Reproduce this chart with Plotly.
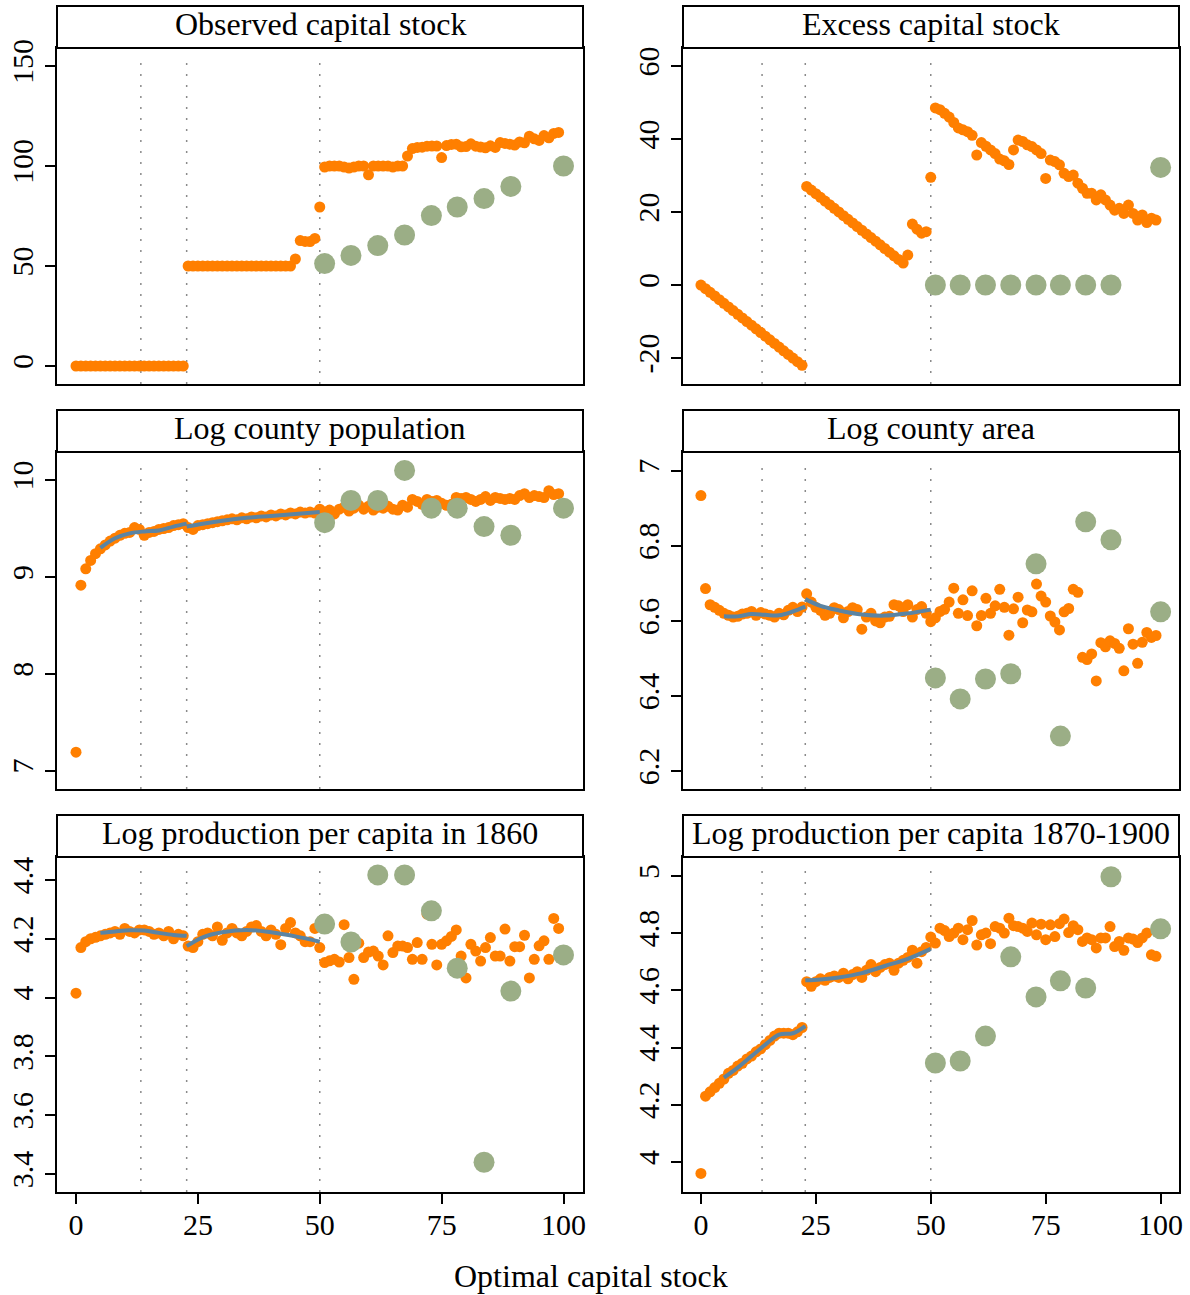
import plotly.graph_objects as go

# ---------------- data ----------------
# optimal capital stock grid (orange points)
X = list(range(100))

OBS = [0, 0, 0, 0, 0, 0, 0, 0, 0, 0, 0, 0, 0, 0, 0, 0, 0, 0, 0, 0, 0, 0, 0,
       50, 50, 50, 50, 50, 50, 50, 50, 50, 50, 50, 50, 50, 50, 50, 50, 50, 50, 50, 50, 50, 50,
       53.5, 62.7, 62.3, 62.2, 63.8, 79.5,
       99.5, 100, 100, 100, 99.5, 99, 99.5, 100, 100, 95.6, 100, 100, 100, 100, 99.5, 100, 100,
       105, 108.7, 109.3, 109.4, 109.9, 110, 110, 104.2,
       110.2, 110.8, 110.9, 109.6, 109.7, 111.1, 109.9, 109.5, 109.1, 110.1, 109.3,
       111.7, 111.3, 110.9, 110.5, 112, 111.6, 114.9, 113.6, 112.8, 115.2, 114.1, 116.3, 116.8]

EXC = [0, -1, -2, -3, -4, -5, -6, -7, -8, -9, -10, -11, -12, -13, -14, -15, -16, -17, -18, -19, -20, -21, -22,
       27, 26, 25, 24, 23, 22, 21, 20, 19, 18, 17, 16, 15, 14, 13, 12, 11, 10, 9, 8, 7, 6,
       8.2, 16.7, 15.3, 14.2, 14.6, 29.5,
       48.5, 48, 47, 46, 44.5, 43, 42.5, 42, 41, 35.6, 39, 38, 37, 36, 34.5, 34, 33,
       37, 39.7, 39.3, 38.4, 37.9, 37, 36, 29.2,
       34.2, 33.8, 32.9, 30.6, 29.7, 30.1, 27.9, 26.5, 25.1, 25.1, 23.3,
       24.7, 23.3, 21.9, 20.5, 21, 19.6, 21.9, 19.6, 17.8, 19.2, 17.1, 18.3, 17.8]

POP = [7.19, 8.915, 9.084, 9.17, 9.24, 9.29, 9.33, 9.37, 9.40, 9.43, 9.45, 9.46, 9.51, 9.49, 9.43,
       9.46, 9.47, 9.49, 9.50, 9.51, 9.53, 9.54, 9.55, 9.51, 9.49, 9.53, 9.54, 9.55, 9.56, 9.57,
       9.58, 9.59, 9.60, 9.59, 9.61, 9.60, 9.62, 9.61, 9.63, 9.62, 9.64, 9.63, 9.65, 9.64, 9.66,
       9.65, 9.67, 9.66, 9.67, 9.66, 9.70,
       9.67, 9.69, 9.65, 9.70, 9.72, 9.68, 9.71, 9.74, 9.70, 9.73, 9.69, 9.72, 9.71, 9.73, 9.70,
       9.69, 9.74, 9.72, 9.80, 9.78, 9.75, 9.80, 9.78, 9.79, 9.76, 9.74, 9.75, 9.82, 9.81, 9.82,
       9.80, 9.78, 9.80, 9.83, 9.79, 9.82, 9.81, 9.80, 9.81, 9.80, 9.84, 9.86, 9.82, 9.84, 9.83,
       9.82, 9.89, 9.85, 9.86]

AREA = [6.934, 6.686, 6.643, 6.636, 6.628, 6.62, 6.615, 6.61, 6.612, 6.618, 6.62, 6.625, 6.615,
        6.622, 6.618, 6.615, 6.61, 6.62, 6.616, 6.628, 6.636, 6.625, 6.637, 6.672, 6.65, 6.636,
        6.628, 6.615, 6.62, 6.635, 6.63, 6.608, 6.625, 6.635, 6.63, 6.578, 6.61, 6.62, 6.6,
        6.595, 6.61, 6.612, 6.643, 6.64, 6.625, 6.643, 6.61, 6.63, 6.638, 6.62, 6.598,
        6.608, 6.625, 6.631, 6.65, 6.687, 6.62, 6.656, 6.614, 6.68, 6.587, 6.614, 6.66, 6.62,
        6.64, 6.684, 6.636, 6.562, 6.632, 6.663, 6.595, 6.629, 6.624, 6.698, 6.666, 6.65,
        6.613, 6.597, 6.576, 6.624, 6.633, 6.684, 6.676, 6.503, 6.497, 6.512, 6.44, 6.542,
        6.531, 6.547, 6.54, 6.527, 6.467, 6.579, 6.538, 6.487, 6.543, 6.569, 6.556, 6.561]

P1860 = [4.015, 4.17, 4.19, 4.20, 4.205, 4.21, 4.215, 4.22, 4.225, 4.215, 4.235, 4.225, 4.22,
         4.23, 4.23, 4.225, 4.215, 4.22, 4.21, 4.225, 4.20, 4.215, 4.21, 4.175, 4.17, 4.19,
         4.215, 4.22, 4.21, 4.24, 4.195, 4.22, 4.235, 4.22, 4.21, 4.225, 4.24, 4.245, 4.225,
         4.21, 4.23, 4.215, 4.18, 4.235, 4.255, 4.22, 4.21, 4.19, 4.19, 4.235, 4.17,
         4.119, 4.125, 4.13, 4.121, 4.248, 4.136, 4.062, 4.185, 4.136, 4.155, 4.158, 4.141,
         4.111, 4.21, 4.153, 4.175, 4.175, 4.17, 4.13, 4.187, 4.13, 4.284, 4.181, 4.111, 4.181,
         4.193, 4.208, 4.23, 4.141, 4.067, 4.181, 4.158, 4.124, 4.17, 4.204, 4.141, 4.141,
         4.233, 4.124, 4.173, 4.173, 4.212, 4.067, 4.13, 4.176, 4.193, 4.13, 4.269, 4.235]

P1870 = [3.96, 4.23, 4.245, 4.26, 4.275, 4.29, 4.31, 4.32, 4.335, 4.345, 4.36, 4.37, 4.385,
         4.395, 4.41, 4.425, 4.44, 4.45, 4.45, 4.45, 4.445, 4.455, 4.47, 4.63, 4.614, 4.63,
         4.64, 4.635, 4.645, 4.65, 4.645, 4.66, 4.64, 4.655, 4.665, 4.645, 4.67, 4.69, 4.665,
         4.68, 4.69, 4.695, 4.67, 4.695, 4.705, 4.715, 4.74, 4.695, 4.735, 4.75, 4.786,
         4.765, 4.817, 4.809, 4.788, 4.80, 4.817, 4.777, 4.812, 4.844, 4.758, 4.794, 4.80,
         4.763, 4.823, 4.817, 4.80, 4.852, 4.826, 4.823, 4.817, 4.806, 4.835, 4.794, 4.831,
         4.777, 4.829, 4.788, 4.833, 4.849, 4.802, 4.826, 4.812, 4.771, 4.783, 4.777, 4.748,
         4.783, 4.783, 4.823, 4.753, 4.771, 4.74, 4.783, 4.779, 4.767, 4.783, 4.80, 4.724, 4.719]

# large green points
GX = [51, 56.4, 61.9, 67.4, 72.9, 78.2, 83.7, 89.2, 100]
G_OBS = [51.2, 55.3, 60.2, 65.5, 75.2, 79.5, 83.7, 89.8, 100]
G_EXC = [0, 0, 0, 0, 0, 0, 0, 0, 32.2]
G_POP = [9.56, 9.79, 9.79, 10.10, 9.71, 9.71, 9.52, 9.43, 9.71]
G_AREA = [6.448, 6.392, 6.445, 6.459, 6.752, 6.293, 6.864, 6.816, 6.624]
G_P1860 = [4.25, 4.189, 4.417, 4.417, 4.295, 4.10, 3.44, 4.022, 4.145]
G_P1870 = [4.346, 4.353, 4.44, 4.717, 4.577, 4.633, 4.608, 4.997, 4.815]

# smoothed fits (blue), two segments each
BX1 = [5, 8, 11, 14, 17, 20, 22.7]
BX2 = [22.7, 26, 30, 35, 40, 45, 50]
B_POP1 = [9.30, 9.40, 9.45, 9.47, 9.48, 9.52, 9.55]
B_POP2 = [9.52, 9.55, 9.58, 9.61, 9.63, 9.65, 9.67]
B_AREA1 = [6.612, 6.612, 6.618, 6.616, 6.615, 6.625, 6.638]
B_AREA2 = [6.658, 6.64, 6.628, 6.617, 6.614, 6.62, 6.63]
B_P18601 = [4.22, 4.225, 4.229, 4.228, 4.22, 4.213, 4.21]
B_P18602 = [4.175, 4.205, 4.222, 4.23, 4.222, 4.208, 4.19]
B_P18701 = [4.295, 4.33, 4.37, 4.41, 4.445, 4.45, 4.475]
B_P18702 = [4.635, 4.638, 4.645, 4.66, 4.685, 4.71, 4.745]

VLINES = [13.3, 22.7, 50]

TITLES = ["Observed capital stock", "Excess capital stock", "Log county population",
          "Log county area", "Log production per capita in 1860", "Log production per capita 1870-1900"]
XTICKS = [0, 25, 50, 75, 100]
YTICKS = [[0, 50, 100, 150], [-20, 0, 20, 40, 60], [7, 8, 9, 10],
          [6.2, 6.4, 6.6, 6.8, 7], [3.4, 3.6, 3.8, 4, 4.2, 4.4], [4, 4.2, 4.4, 4.6, 4.8, 5]]
YRANGES = [[-9, 159], [-27.1, 64.9], [6.81, 10.29], [6.152, 7.05], [3.339, 4.478], [3.895, 5.066]]

# ---------------- style ----------------
ORANGE = "#FF7F00"
GREEN = "#9BAE86"
BLUE = "#5B84A3"
FONT = "Liberation Serif"
W, H = 1190, 1295

XDOM = [[57 / W, 583 / W], [683 / W, 1179 / W]]
ROWS_PX = [(48, 384), (452, 789), (857, 1192)]
STRIP_H = 42

series = [(OBS, G_OBS, None), (EXC, G_EXC, None),
          (POP, G_POP, (B_POP1, B_POP2)), (AREA, G_AREA, (B_AREA1, B_AREA2)),
          (P1860, G_P1860, (B_P18601, B_P18602)), (P1870, G_P1870, (B_P18701, B_P18702))]

fig = go.Figure()
layout = dict(width=W, height=H, autosize=False, margin=dict(l=0, r=0, t=0, b=0, pad=0),
              paper_bgcolor="white", plot_bgcolor="white", showlegend=False,
              font=dict(family=FONT, size=30, color="black"))
shapes, annotations = [], []

for i in range(6):
    k = i + 1
    col = i % 2
    row = i // 2
    xd = XDOM[col]
    top, bot = ROWS_PX[row]
    yd = [1 - bot / H, 1 - top / H]
    xa, ya = f"x{k}" if k > 1 else "x", f"y{k}" if k > 1 else "y"
    yvals, gvals, blue = series[i]

    fig.add_trace(go.Scatter(x=X, y=yvals, mode="markers", xaxis=xa, yaxis=ya,
                             marker=dict(color=ORANGE, size=11, line=dict(width=0))))
    if blue is not None:
        fig.add_trace(go.Scatter(x=BX1, y=blue[0], mode="lines", xaxis=xa, yaxis=ya,
                                 line=dict(color=BLUE, width=4, shape="spline")))
        fig.add_trace(go.Scatter(x=BX2, y=blue[1], mode="lines", xaxis=xa, yaxis=ya,
                                 line=dict(color=BLUE, width=4, shape="spline")))
    fig.add_trace(go.Scatter(x=GX, y=gvals, mode="markers", xaxis=xa, yaxis=ya,
                             marker=dict(color=GREEN, size=21, line=dict(width=0))))

    bottom = row == 2
    layout[f"xaxis{k}"] = dict(domain=xd, anchor=ya, range=[-3.9, 104], showgrid=False,
                               zeroline=False, showline=True, mirror=True, linecolor="black",
                               linewidth=2, ticks="outside" if bottom else "", ticklen=10,
                               tickwidth=2, tickcolor="black", tickvals=XTICKS if bottom else [],
                               showticklabels=bottom, automargin=False, ticklabelstandoff=-5,
                               tickfont=dict(size=30, family=FONT))
    layout[f"yaxis{k}"] = dict(domain=yd, anchor=xa, range=YRANGES[i], showgrid=False,
                               zeroline=False, showline=True, mirror=True, linecolor="black",
                               linewidth=2, ticks="outside", ticklen=10, tickwidth=2,
                               tickcolor="black", tickvals=YTICKS[i], automargin=False,
                               ticktext=[f"{v:g}" for v in YTICKS[i]], tickangle=-90,
                               tickfont=dict(size=30, family=FONT))

    for v in VLINES:
        shapes.append(dict(type="line", xref=xa, yref=f"{ya} domain", x0=v, x1=v, y0=0, y1=0.975,
                           line=dict(color="#8a8a8a", width=1.5, dash="2px,9px"), layer="below"))

    s_bot = 1 - top / H
    s_top = 1 - (top - STRIP_H) / H
    shapes.append(dict(type="rect", xref="paper", yref="paper", x0=xd[0], x1=xd[1],
                       y0=s_bot, y1=s_top, line=dict(color="black", width=2),
                       fillcolor="white"))
    annotations.append(dict(text=TITLES[i], xref="paper", yref="paper",
                            x=(xd[0] + xd[1]) / 2, y=(s_bot + s_top) / 2 + 3 / H, showarrow=False,
                            xanchor="center", yanchor="middle",
                            font=dict(size=32, family=FONT, color="black")))

annotations.append(dict(text="Optimal capital stock", xref="paper", yref="paper",
                        x=591 / W, y=1 - 1276 / H, showarrow=False, xanchor="center",
                        yanchor="middle", font=dict(size=32, family=FONT, color="black")))

layout["shapes"] = shapes
layout["annotations"] = annotations
fig.update_layout(**layout)
fig.write_html("out.html", config={"displayModeBar": False},
               post_script="document.body.style.margin='0px';document.body.style.overflow='hidden';")
